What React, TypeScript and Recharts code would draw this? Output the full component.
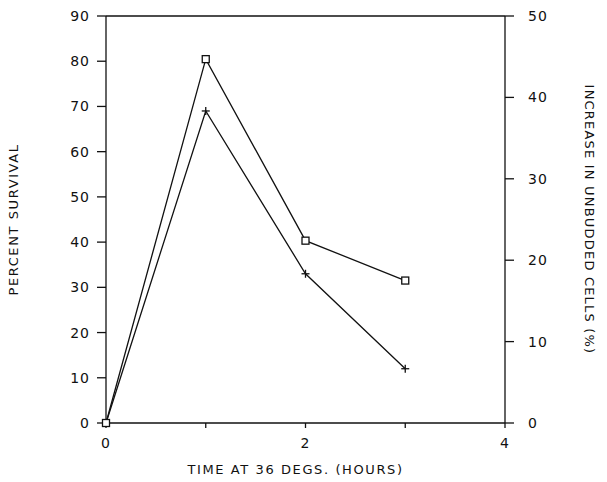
import React from "react";
import { LineChart, Line, XAxis, YAxis, Label, ReferenceLine } from "recharts";

const hours = [0, 1, 2, 3];
const survival = [0, 69, 33, 12];
const unbudded = [0, 44.7, 22.4, 17.5];

const xTicks = [0, 1, 2, 3, 4];
const leftTicks = [0, 10, 20, 30, 40, 50, 60, 70, 80, 90];
const rightTicks = [0, 10, 20, 30, 40, 50];

const data = hours.map((h, i) => ({
  hours: h,
  survival: survival[i],
  unbudded: unbudded[i],
}));

const font = "'DejaVu Sans', sans-serif";
const ink = "#111";

function PlusDot(props: any) {
  const { cx, cy } = props;
  if (cx == null || cy == null) return null;
  return (
    <g stroke={ink} strokeWidth={1.3}>
      <line x1={cx - 4} x2={cx + 4} y1={cy} y2={cy} />
      <line x1={cx} x2={cx} y1={cy - 4} y2={cy + 4} />
    </g>
  );
}

function SquareDot(props: any) {
  const { cx, cy } = props;
  if (cx == null || cy == null) return null;
  return (
    <rect x={cx - 3.5} y={cy - 3.5} width={7} height={7} fill="#fff" stroke={ink} strokeWidth={1.3} />
  );
}

const tickStyle = { fontSize: 14, fill: ink, fontFamily: font, letterSpacing: 1 };
const labelStyle = { fontSize: 13, fill: ink, fontFamily: font, letterSpacing: 1.6 };

export default function App() {
  return (
    <div style={{ position: "absolute", left: 0, top: 0, background: "#fff" }}>
      <LineChart
        width={607}
        height={482}
        data={data}
        margin={{ top: 16, right: 0, bottom: 0, left: 0 }}
      >
        <XAxis
          dataKey="hours"
          type="number"
          domain={[0, 4]}
          ticks={xTicks}
          tickFormatter={(v) => (v % 2 === 0 ? String(v) : "")}
          tick={tickStyle}
          tickSize={5}
          tickMargin={10}
          height={59}
          stroke={ink}
          strokeWidth={1.3}
        >
          <Label
            value="TIME AT 36 DEGS. (HOURS)"
            position="insideBottom"
            offset={8}
            dx={-10}
            style={labelStyle}
          />
        </XAxis>
        <YAxis
          yAxisId="left"
          domain={[0, 90]}
          ticks={leftTicks}
          tick={tickStyle}
          tickSize={9}
          tickMargin={7}
          width={106}
          stroke={ink}
          strokeWidth={1.3}
        >
          <Label
            value="PERCENT SURVIVAL"
            angle={-90}
            position="insideLeft"
            offset={13}
            style={{ ...labelStyle, textAnchor: "middle" }}
          />
        </YAxis>
        <YAxis
          yAxisId="right"
          orientation="right"
          domain={[0, 50]}
          ticks={rightTicks}
          tick={{ ...tickStyle, textAnchor: "start" }}
          tickSize={9}
          tickMargin={14}
          width={102}
          stroke={ink}
          strokeWidth={1.3}
        >
          <Label
            value="INCREASE IN UNBUDDED CELLS (%)"
            angle={90}
            position="insideRight"
            offset={17}
            style={{ ...labelStyle, letterSpacing: 1.2, textAnchor: "middle" }}
          />
        </YAxis>
        <ReferenceLine yAxisId="left" y={90} stroke={ink} strokeWidth={1.3} />
        <Line
          yAxisId="left"
          dataKey="survival"
          type="linear"
          stroke={ink}
          strokeWidth={1.3}
          dot={<PlusDot />}
          activeDot={false}
          isAnimationActive={false}
        />
        <Line
          yAxisId="right"
          dataKey="unbudded"
          type="linear"
          stroke={ink}
          strokeWidth={1.3}
          dot={<SquareDot />}
          activeDot={false}
          isAnimationActive={false}
        />
      </LineChart>
    </div>
  );
}
